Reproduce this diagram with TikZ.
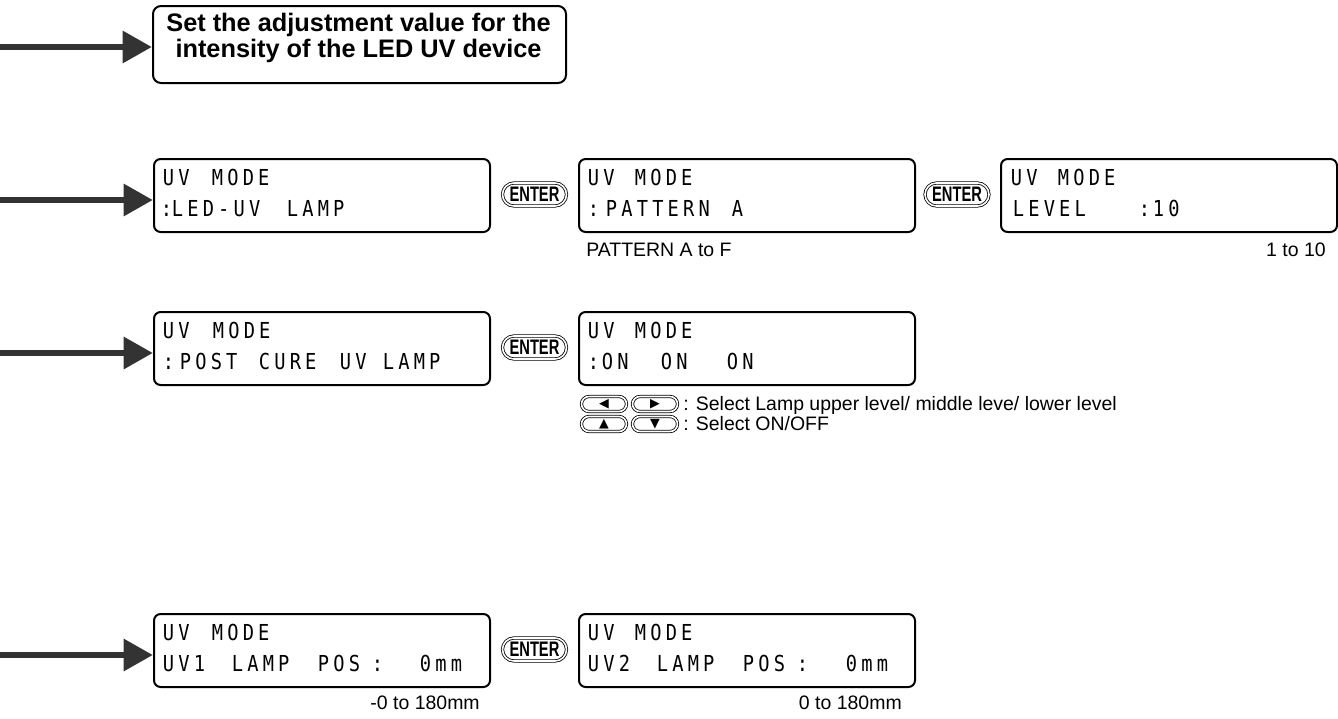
\documentclass[tikz,border=0pt]{standalone}
\usepackage{fontspec}
\setmainfont{Liberation Sans}
\newfontfamily\lcdfamily{DejaVu Sans Mono}[FakeStretch=0.85,LetterSpace=19]
\newfontfamily\keyfamily{Liberation Sans}[FakeStretch=0.7]
\newfontfamily\symfamily{DejaVu Sans}
\usepackage{tikz}
\usetikzlibrary{arrows.meta,positioning,shapes.misc}
\definecolor{feedgray}{RGB}{51,51,51}
\newlength\px
\setlength\px{0.75pt}
% word of an LCD line, set at an offset from the line start
\newcommand\lw[2]{\rlap{\hspace{#1\px}#2}}
\tikzset{
  lcd/.style={rectangle,rounded corners=5pt,draw,line width=1.5pt,
              minimum width=336\px,minimum height=73\px,inner sep=0pt,
              anchor=north west},
  lcdtxt/.style={anchor=west,inner sep=0pt,text height=12pt,text depth=0pt,
                 font=\lcdfamily\fontsize{16.5pt}{19pt}\selectfont},
  keybtn/.style={rounded rectangle,draw,double,double distance=1.2pt,
                 line width=0.6pt,inner sep=0pt,minimum width=#1,
                 minimum height=15\px},
  keybtn/.default=45\px,
  enterbtn/.style={keybtn=64\px,minimum height=23\px,
                   font=\keyfamily\bfseries\fontsize{15.75pt}{16pt}\selectfont},
  note/.style={inner sep=0pt,text height=10.4pt,text depth=0pt,
               font=\fontsize{14.6pt}{16pt}\selectfont},
  feed/.style={-{Triangle[length=22pt,width=23pt]},line width=5.2pt,color=feedgray},
}
\begin{document}
\begin{tikzpicture}[x=0.75pt,y=-0.75pt,
    sym/.style={font=\symfamily\fontsize{9.5pt}{10pt}\selectfont},
  ]
  \useasboundingbox (0,0) rectangle (1338,718);

  % -- heading
  \node[lcd,minimum width=413\px,minimum height=77\px,rounded corners=6pt] (head) at (152,5) {};
  \node[align=center,inner sep=0pt,font=\bfseries\fontsize{19pt}{19.5pt}\selectfont]
    (headtxt) at (358.5,38) {Set the adjustment value for the\\intensity of the LED UV device};
  \coordinate (inH) at (0,47);
  \draw[feed] (inH) -- (inH -| head.west);

  % -- row 1 : LED-UV lamp
  \node[lcd] (lcdA) at (153,158) {};
  \node[lcdtxt] (a1) at (162,177) {\lw{0}{UV}\lw{49}{MODE}};
  \node[lcdtxt] (a2) at (162,208) {\lw{-2}{:}\lw{9}{LED-UV}\lw{124}{LAMP}};
  \node[enterbtn] (entA) at (534.5,194.5) {ENTER};
  \node[lcd] (lcdB) at (578,158) {};
  \node[lcdtxt] (b1) at (587,177) {\lw{0}{UV}\lw{47}{MODE}};
  \node[lcdtxt] (b2) at (587,208) {\lw{0}{:}\lw{18}{PATTERN}\lw{144}{A}};
  \node[enterbtn] (entB) at (957,194.5) {ENTER};
  \node[lcd] (lcdC) at (1000,158) {};
  \node[lcdtxt] (c1) at (1010,177) {\lw{0}{UV}\lw{47}{MODE}};
  \node[lcdtxt] (c2) at (1010,208) {\lw{2}{LEVEL}\lw{128}{:}\lw{142}{10}};
  \node[note,anchor=west] (patnote) at (586,250) {PATTERN A to F};
  \node[note,anchor=east] (lvlnote) at (1326,250) {1 to 10};
  \coordinate (inA) at (0,200);
  \draw[feed] (inA) -- (inA -| lcdA.west);

  % -- row 2 : post cure lamp
  \node[lcd] (lcdD) at (153,311) {};
  \node[lcdtxt] (d1) at (162,330) {\lw{0}{UV}\lw{50}{MODE}};
  \node[lcdtxt] (d2) at (162,361) {\lw{0}{:}\lw{17}{POST}\lw{96}{CURE}\lw{177}{UV}\lw{220}{LAMP}};
  \node[enterbtn] (entD) at (534.5,347.5) {ENTER};
  \node[lcd] (lcdE) at (578,311) {};
  \node[lcdtxt] (e1) at (587,330) {\lw{0}{UV}\lw{47}{MODE}};
  \node[lcdtxt] (e2) at (587,361) {\lw{0}{:}\lw{14}{ON}\lw{73}{ON}\lw{139}{ON}};
  \node[keybtn,sym] (kl) at (604,404) {◀};
  \node[keybtn,sym] (kr) at (655,404) {▶};
  \node[keybtn,sym] (ku) at (604,424) {▲};
  \node[keybtn,sym] (kd) at (655,424) {▼};
  \node[note,anchor=west] (lrnote) at (683,404) {: Select Lamp upper level/ middle leve/ lower level};
  \node[note,anchor=west] (udnote) at (683,424) {: Select ON/OFF};
  \coordinate (inD) at (0,353);
  \draw[feed] (inD) -- (inD -| lcdD.west);

  % -- row 3 : lamp positions
  \node[lcd] (lcdF) at (153,613) {};
  \node[lcdtxt] (f1) at (162,632) {\lw{0}{UV}\lw{49}{MODE}};
  \node[lcdtxt] (f2) at (162,663) {\lw{0}{UV1}\lw{69}{LAMP}\lw{155}{POS}\lw{209}{:}\lw{257}{0mm}};
  \node[enterbtn] (entF) at (534.5,649.5) {ENTER};
  \node[lcd] (lcdG) at (578,613) {};
  \node[lcdtxt] (g1) at (587,632) {\lw{0}{UV}\lw{47}{MODE}};
  \node[lcdtxt] (g2) at (587,663) {\lw{0}{UV2}\lw{69}{LAMP}\lw{155}{POS}\lw{209}{:}\lw{258}{0mm}};
  \node[note,anchor=east] (pos1note) at (480,703) {-0 to 180mm};
  \node[note,anchor=east] (pos2note) at (902,703) {0 to 180mm};
  \coordinate (inF) at (0,655);
  \draw[feed] (inF) -- (inF -| lcdF.west);
\end{tikzpicture}
\end{document}
